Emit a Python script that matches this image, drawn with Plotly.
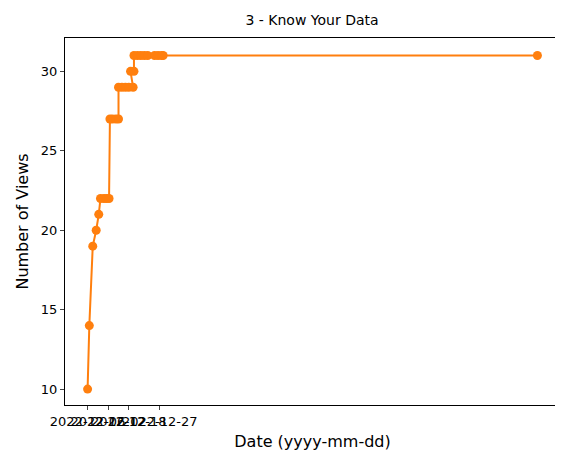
import plotly.graph_objects as go

dates = ["2022-12-06 00:00", "2022-12-06 12:00", "2022-12-07 12:00", "2022-12-08 12:00", "2022-12-09 06:00",
         "2022-12-09 18:00", "2022-12-10 18:00", "2022-12-11 12:00", "2022-12-12 06:00",
         "2022-12-12 12:00", "2022-12-13 06:00", "2022-12-14 06:00", "2022-12-15 00:00",
         "2022-12-15 00:00", "2022-12-16 00:00", "2022-12-17 00:00", "2022-12-18 00:00", "2022-12-19 06:00",
         "2022-12-18 12:00", "2022-12-19 12:00",
         "2022-12-19 12:00", "2022-12-20 12:00", "2022-12-21 12:00", "2022-12-22 12:00", "2022-12-23 12:00",
         "2022-12-25 12:00", "2022-12-26 12:00", "2022-12-27 12:00", "2022-12-28 00:00",
         "2023-04-16 00:00"]
views = [10, 14, 19, 20, 21,
         22, 22, 22, 22,
         27, 27, 27, 27,
         29, 29, 29, 29, 29,
         30, 30,
         31, 31, 31, 31, 31,
         31, 31, 31, 31,
         31]
tick_dates = ["2022-12-06", "2022-12-12", "2022-12-18", "2022-12-27"]

fig = go.Figure()
fig.add_trace(go.Scatter(x=dates, y=views, mode="lines+markers",
                         line=dict(color="#ff7f0e", width=2),
                         marker=dict(color="#ff7f0e", size=9)))
fig.update_layout(
    width=563, height=453, template="none",
    paper_bgcolor="white", plot_bgcolor="white",
    margin=dict(l=57, r=11, t=30, b=56, autoexpand=False),
    title=dict(text="3 - Know Your Data", x=0.54, y=0.985, yanchor="top",
               font=dict(size=14, color="black", family="DejaVu Sans")),
    font=dict(family="DejaVu Sans", size=13, color="black"),
    showlegend=False,
    xaxis=dict(type="date", range=["2022-11-29 10:00", "2023-04-22 14:00"],
               tickvals=tick_dates, ticktext=tick_dates, tickangle=0, automargin=False,
               showgrid=False, zeroline=False, showline=True, mirror=True,
               linecolor="black", linewidth=1, ticks="outside", ticklen=4,
               title=dict(text="Date (yyyy-mm-dd)", standoff=8)),
    yaxis=dict(range=[9.0, 32.1], tickvals=[10, 15, 20, 25, 30], automargin=False,
               showgrid=False, zeroline=False, showline=True, mirror=True,
               linecolor="black", linewidth=1, ticks="outside", ticklen=4,
               title=dict(text="Number of Views", standoff=8)),
)
fig.write_html("out.html")
